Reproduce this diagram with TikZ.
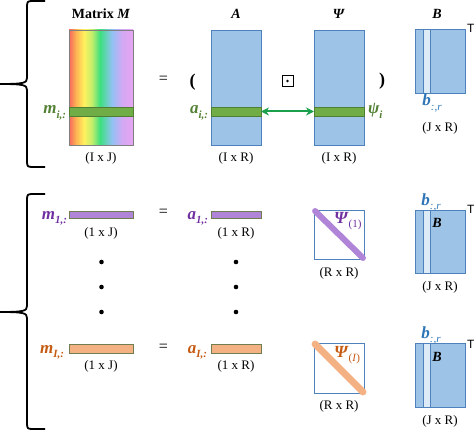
\documentclass[tikz,border=0pt]{standalone}
\usepackage{fontspec}
\setmainfont{Liberation Serif}
\newfontfamily\tsans{Liberation Sans}
\usetikzlibrary{arrows.meta,positioning}

\definecolor{matfill}{HTML}{9DC3E6}
\definecolor{matdraw}{HTML}{4F81BD}
\definecolor{stripfill}{HTML}{DDEBF7}
\definecolor{bandgreen}{HTML}{70AD47}
\definecolor{bandgreenline}{HTML}{507E32}
\definecolor{arrowgreen}{HTML}{1AA04C}
\definecolor{labgreen}{HTML}{548235}
\definecolor{labpurple}{HTML}{7030A0}
\definecolor{barpurple}{HTML}{B085D8}
\definecolor{laborange}{HTML}{C55A11}
\definecolor{barorange}{HTML}{F4B183}
\definecolor{barline}{HTML}{6F7F4F}
\definecolor{labblue}{HTML}{2E75B6}
\definecolor{rbred}{HTML}{F7665E}
\definecolor{rborange}{HTML}{FDB453}
\definecolor{rbyellow}{HTML}{FFF25E}
\definecolor{rblime}{HTML}{C2EE6C}
\definecolor{rbgreen}{HTML}{3DE07F}
\definecolor{rbblue}{HTML}{92C2F4}
\definecolor{rbviolet}{HTML}{D3A8F4}
\definecolor{rbpink}{HTML}{E6A6F2}

% bold italic symbol with a small subscript
\newcommand{\vecl}[2]{\textbf{\textit{#1}}\raisebox{-0.25em}{\fontsize{11}{11}\selectfont\textbf{\textit{#2}}}}
\newcommand{\bcol}{\textbf{\textit{b}}\raisebox{-0.25em}{\fontsize{11}{11}\selectfont\textit{:,r}}}
\newcommand{\psisub}[1]{\textbf{\textit{Ψ}}\raisebox{-0.25em}{\fontsize{11}{11}\selectfont #1}}

\tikzset{
  matbox/.style={draw=matdraw, fill=matfill, line width=0.8pt},
  diagbox/.style={draw=matdraw, fill=white, line width=1pt},
  band/.style={draw=bandgreenline, fill=bandgreen, line width=0.6pt},
  purplebar/.style={draw=barline, fill=barpurple, line width=0.7pt},
  orangebar/.style={draw=barline, fill=barorange, line width=0.7pt},
  stripline/.style={draw=matdraw, fill=stripfill, line width=0.8pt},
  titletext/.style={font=\fontsize{14}{16}\selectfont\bfseries},
  dimtext/.style={font=\fontsize{13}{15}\selectfont},
  symtext/.style={font=\fontsize{16}{18}\selectfont},
  lbltext/.style={font=\fontsize{17}{19}\selectfont},
  ttext/.style={font=\fontsize{12}{14}\selectfont\tsans},
  bracepath/.style={draw=black, line width=1.8pt},
}

\begin{document}
\begin{tikzpicture}[x=1pt,y=1pt,yscale=-1,inner sep=0pt,outer sep=0pt]
\useasboundingbox (0,0) rectangle (474,433);

% braces
\path[bracepath] (45,1) -- (32,1) .. controls (28,1) and (27,2) .. (27,6) -- (27,78)
  .. controls (27,83) and (24,84) .. (0,84);
\path[bracepath] (0,84) .. controls (24,84) and (27,85) .. (27,90) -- (27,162)
  .. controls (27,166) and (28,167) .. (32,167) -- (45,167);
\path[bracepath] (45,194) -- (32,194) .. controls (28,194) and (27,195) .. (27,199) -- (27,306)
  .. controls (27,311) and (24,312) .. (0,312);
\path[bracepath] (0,312) .. controls (24,312) and (27,313) .. (27,318) -- (27,424)
  .. controls (27,428) and (28,429) .. (32,429) -- (45,429);

% rainbow matrix M
\path[left color=rbred, right color=rborange] (69,30) rectangle (76,145);
\path[left color=rborange, right color=rbyellow] (76,30) rectangle (84,145);
\path[left color=rbyellow, right color=rblime] (84,30) rectangle (92,145);
\path[left color=rblime, right color=rbgreen] (92,30) rectangle (100,145);
\path[left color=rbgreen, right color=rbblue] (100,30) rectangle (112,145);
\path[left color=rbblue, right color=rbviolet] (112,30) rectangle (122,145);
\path[left color=rbviolet, right color=rbpink] (122,30) rectangle (133,145);
\node[draw=gray, line width=0.7pt, minimum width=64, minimum height=115] (M) at (101,87.5) {};

% top row
\node[matbox, minimum width=50, minimum height=115] (A) at (236,87.5) {};
\node[matbox, minimum width=50, minimum height=115] (Psi) at (339,87.5) {};
\node[matbox, minimum width=50, minimum height=64] (B0) at (440,61) {};
\path[stripline] ([xshift=8]B0.north west) rectangle ([xshift=15]B0.south west);

\node[band, minimum width=64, minimum height=9] (mi) at (101,111.5) {};
\node[band, minimum width=50, minimum height=9] (ai) at (236,111.5) {};
\node[band, minimum width=50, minimum height=9] (psii) at (339,111.5) {};
\draw[arrowgreen, line width=2pt, {Stealth[length=8pt,width=8pt]}-{Stealth[length=8pt,width=8pt]}]
  (ai.east) -- (psii.west);

\node[titletext, anchor=base] (tM) at (101,19) {Matrix \textit{M}};
\node[titletext, anchor=base] (tA) at (236,19) {\textit{A}};
\node[titletext, anchor=base] (tPsi) at (339,19) {\textit{Ψ}};
\node[titletext, anchor=base] (tB) at (437,19) {\textit{B}};

\node[symtext, anchor=center] (eq0) at (163.5,80) {=};
\node[font=\fontsize{18}{20}\selectfont\bfseries, anchor=center] (lpar) at (192.5,82.5) {(};
\node[font=\fontsize{18}{20}\selectfont\bfseries, anchor=center] (rpar) at (382,81.5) {)};
\node[draw=black, line width=0.9pt, minimum size=11] (odot) at (287.5,81) {};
\fill (odot.center) circle (1.3);

\node[lbltext, text=labgreen, anchor=base east] (lmi) at (66,114) {\vecl{m}{i,:}};
\node[lbltext, text=labgreen, anchor=base east] (lai) at (208,114) {\vecl{a}{i,:}};
\node[lbltext, text=labgreen, anchor=base west] (lpsii) at (368,114) {\vecl{ψ}{i}};
\node[lbltext, text=labblue, anchor=base] (lb0) at (432,106) {\bcol};
\node[ttext, anchor=base west] (T0) at (467,33) {T};

\node[dimtext, anchor=base] (dM) at (101,162) {(I x J)};
\node[dimtext, anchor=base] (dA) at (236,162) {(I x R)};
\node[dimtext, anchor=base] (dPsi) at (339,162) {(I x R)};
\node[dimtext, anchor=base] (dB0) at (440,132) {(J x R)};

% row of the first sample
\node[purplebar, minimum width=64, minimum height=7] (m1) at (101,214.5) {};
\node[purplebar, minimum width=50, minimum height=7] (a1) at (236,214.5) {};
\node[diagbox, minimum width=50, minimum height=49] (P1) at (339,234.5) {};
\draw[barpurple, line width=6pt, line cap=round, shorten <=1.5pt, shorten >=1.5pt]
  (P1.north west) -- (P1.south east);
\node[matbox, minimum width=50, minimum height=63] (B1) at (440,241.5) {};
\path[stripline] ([xshift=8]B1.north west) rectangle ([xshift=15]B1.south west);

\node[lbltext, text=labpurple, anchor=base east] (lm1) at (67,219) {\vecl{m}{1,:}};
\node[lbltext, text=labpurple, anchor=base east] (la1) at (208,219) {\vecl{a}{1,:}};
\node[symtext, anchor=center] (eq1) at (163.5,213) {=};
\node[lbltext, text=labpurple, anchor=base west] (lP1) at (334,223) {\psisub{(1)}};
\node[lbltext, text=labblue, anchor=base] (lb1) at (431,205) {\bcol};
\node[titletext, anchor=base] (lB1) at (437,227) {\textit{B}};
\node[ttext, anchor=base west] (T1) at (467,213) {T};

\node[dimtext, anchor=base] (dm1) at (101,236) {(1 x J)};
\node[dimtext, anchor=base] (da1) at (236,236) {(1 x R)};
\node[dimtext, anchor=base] (dP1) at (339,276) {(R x R)};
\node[dimtext, anchor=base] (dB1) at (440,290) {(J x R)};

% vertical dots
\foreach \y in {262,287,312} {
  \fill (101.5,\y) circle (2.3);
  \fill (236,\y) circle (2.3);
}

% row of the last sample
\node[orangebar, minimum width=64, minimum height=9] (mI) at (101,348.5) {};
\node[orangebar, minimum width=50, minimum height=9] (aI) at (236,348.5) {};
\node[diagbox, minimum width=50, minimum height=50] (PI) at (339,368) {};
\draw[barorange, line width=7pt, line cap=round, shorten <=1.5pt, shorten >=1.5pt]
  (PI.north west) -- (PI.south east);
\node[matbox, minimum width=50, minimum height=64] (BI) at (440,375) {};
\path[stripline] ([xshift=8]BI.north west) rectangle ([xshift=15]BI.south west);

\node[lbltext, text=laborange, anchor=base east] (lmI) at (64,353) {\vecl{m}{I,:}};
\node[lbltext, text=laborange, anchor=base east] (laI) at (207,353) {\vecl{a}{I,:}};
\node[symtext, anchor=center] (eq2) at (163.5,348) {=};
\node[lbltext, text=laborange, anchor=base west] (lPI) at (334,357) {\psisub{(\textit{I})}};
\node[lbltext, text=labblue, anchor=base] (lbI) at (431,338) {\bcol};
\node[titletext, anchor=base] (lBI) at (437,361) {\textit{B}};
\node[ttext, anchor=base west] (TI) at (467,348) {T};

\node[dimtext, anchor=base] (dmI) at (101,369) {(1 x J)};
\node[dimtext, anchor=base] (daI) at (236,369) {(1 x R)};
\node[dimtext, anchor=base] (dPI) at (339,409) {(R x R)};
\node[dimtext, anchor=base] (dBI) at (440,424) {(J x R)};
\end{tikzpicture}
\end{document}
